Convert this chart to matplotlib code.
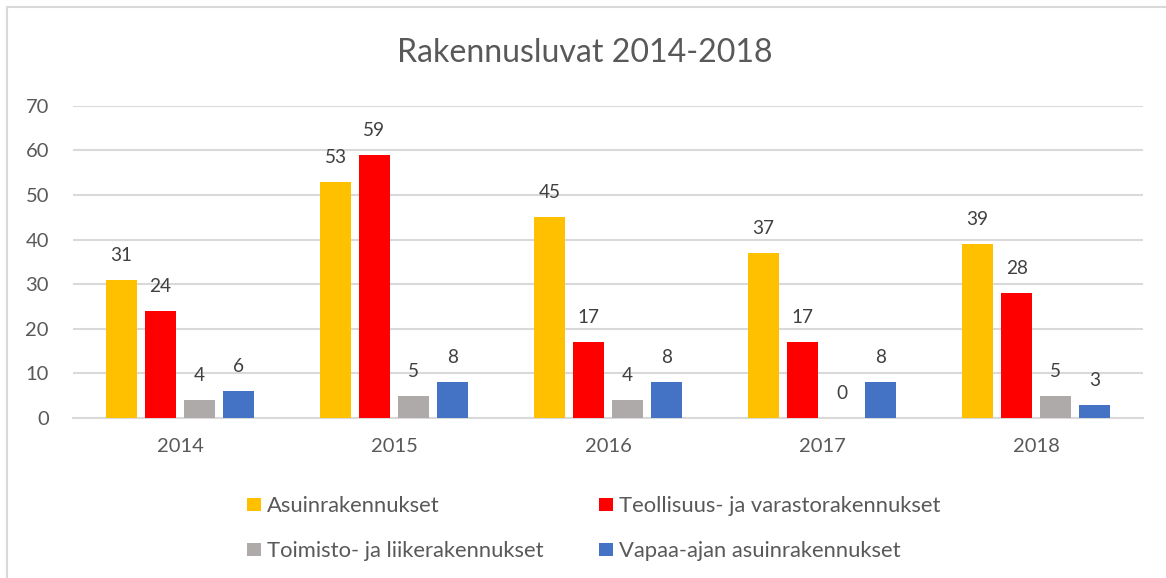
import numpy as np
import matplotlib.pyplot as plt
from matplotlib.patches import Rectangle

years = ['2014', '2015', '2016', '2017', '2018']
series = ['Asuinrakennukset', 'Teollisuus- ja varastorakennukset',
          'Toimisto- ja liikerakennukset', 'Vapaa-ajan asuinrakennukset']
asuin = [31, 53, 45, 37, 39]
teollisuus = [24, 59, 17, 17, 28]
toimisto = [4, 5, 4, 0, 5]
vapaa = [6, 8, 8, 8, 3]
values = [asuin, teollisuus, toimisto, vapaa]
colors = ['#FFC000', '#FF0000', '#AEAAAA', '#4472C4']

FAM = 'Lato'
plt.rcParams['font.family'] = [FAM, 'DejaVu Sans']
txt = '#595959'
grid = '#D9D9D9'
W, H = 1166, 578

fig = plt.figure(figsize=(W / 100, H / 100), dpi=100)
renderer = fig.canvas.get_renderer()


def fit_size(s, target_px):
    # font size that makes string s about target_px wide
    t = fig.text(0, 0, s, fontsize=10)
    w = t.get_window_extent(renderer=renderer).width
    t.remove()
    return 10 * target_px / w


title_fs = fit_size('Rakennusluvat 2014-2018', 376)
tick_fs = fit_size('2014', 47)
lab_fs = fit_size('31', 22)
leg_fs = fit_size('Asuinrakennukset', 173)

ax = fig.add_axes([73 / W, 1 - 418 / H, (1143 - 73) / W, (418 - 105.7) / H])

# chart border
fig.patches.append(Rectangle((7 / W, -0.1), 1.2, 1 - 7 / H + 0.1,
                             transform=fig.transFigure, fill=False,
                             edgecolor=grid, linewidth=1.5))

x = np.arange(len(years))
w = 0.145
step = 0.182
for i, (vals, c) in enumerate(zip(values, colors)):
    pos = x + (i - 1.5) * step
    ax.bar(pos, vals, w, color=c, zorder=3, label=series[i])
    for p, v in zip(pos, vals):
        ax.annotate(str(v), (p, v), xytext=(0, 19 * 0.72), textcoords='offset points',
                    ha='center', va='baseline', fontsize=lab_fs, color='#404040')

ax.set_xlim(-0.5, len(years) - 0.5)
ax.set_ylim(0, 70)
ax.set_yticks(range(0, 71, 10))
ax.yaxis.grid(True, color=grid, linewidth=1.5, zorder=0)
ax.set_axisbelow(True)
for s in ['top', 'right', 'left']:
    ax.spines[s].set_visible(False)
ax.spines['bottom'].set_color(grid)
ax.spines['bottom'].set_linewidth(1.5)
ax.set_xticks(x)
ax.set_xticklabels(years)
ax.tick_params(axis='both', length=0, labelsize=tick_fs, colors=txt)
ax.tick_params(axis='x', pad=20 * 0.72)
ax.tick_params(axis='y', pad=24 * 0.72)

fig.text(585 / W, 1 - 62 / H, 'Rakennusluvat 2014-2018', ha='center',
         va='baseline', fontsize=title_fs, color=txt)

# legend, two rows of two entries
leg_x = [247, 599]
leg_y = [512, 557]
for i, (name, c) in enumerate(zip(series, colors)):
    lx = leg_x[i % 2]
    ly = leg_y[i // 2]
    fig.patches.append(Rectangle((lx / W, 1 - (ly - 1) / H), 14 / W, 13 / H,
                                 transform=fig.transFigure, facecolor=c,
                                 edgecolor='none'))
    fig.text((lx + 20) / W, 1 - ly / H, name, ha='left', va='baseline',
             fontsize=leg_fs, color=txt)

fig.savefig('out.png', dpi=100)
